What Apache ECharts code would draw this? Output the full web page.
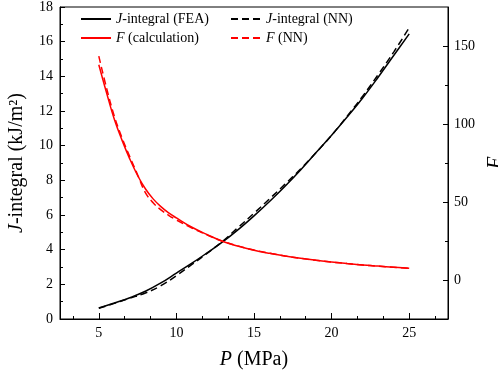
<!DOCTYPE html>
<html>
<head>
<meta charset="utf-8">
<script src="https://cdn.jsdelivr.net/npm/echarts@6/dist/echarts.min.js"></script>
<style>
html, body { margin: 0; padding: 0; background: #fff; }
#main { width: 498px; height: 372px; }
</style>
</head>
<body>
<div id="main"></div>
<script>
// pressure values (MPa)
var pJ = [5, 6, 7, 8, 9, 10, 11, 12, 13, 14, 15, 16, 17, 18, 19, 20, 21, 22, 23, 24, 25];
var jFEA = [0.63, 0.92, 1.23, 1.6, 2.08, 2.65, 3.22, 3.83, 4.46, 5.17, 5.95, 6.78, 7.66, 8.6, 9.6, 10.6, 11.65, 12.75, 13.95, 15.2, 16.45];
var jNN = [0.62, 0.9, 1.2, 1.5, 1.92, 2.5, 3.15, 3.8, 4.5, 5.3, 6.1, 6.93, 7.78, 8.65, 9.6, 10.6, 11.7, 12.85, 14.1, 15.4, 16.8];

var pF = [5, 5.5, 6, 6.5, 7, 7.5, 8, 8.5, 9, 9.5, 10, 11, 12, 13, 14, 15, 16, 17, 18, 19, 20, 21, 22, 23, 24, 25];
var fCalc = [138, 120, 103, 89.5, 77.5, 67, 58.5, 52, 47, 43, 39.8, 33.8, 29, 24.7, 21.6, 19.1, 17.1, 15.4, 13.9, 12.6, 11.5, 10.5, 9.6, 8.9, 8.2, 7.5];
var fNN = [143.5, 123, 105, 91, 79, 67.5, 56, 49.5, 45, 41.5, 38.5, 33.3, 28.8, 24.8, 21.7, 19.2, 17.2, 15.4, 13.9, 12.6, 11.5, 10.5, 9.6, 8.9, 8.2, 7.5];

var xMajor = [5, 10, 15, 20, 25];
var xMinor = [3.333, 6.667, 8.333, 11.667, 13.333, 16.667, 18.333, 21.667, 23.333, 26.667];
var fMajor = [0, 50, 100, 150];
var fMinor = [25, 75, 125];

function pairs(xs, ys) {
	var out = [];
	for (var i = 0; i < xs.length; i++) {
		out.push([xs[i], ys[i]]);
	}
	return out;
}

var font = "'Liberation Serif', 'Times New Roman', serif";
var black = '#000';
var red = '#ff0000';

function legendBox(left, names, fmt) {
	return {
		orient : 'vertical',
		left : left, top : 12,
		padding : 0,
		itemGap : 5,
		itemWidth : 30, itemHeight : 14,
		itemStyle : { opacity : 0 },
		data : names,
		formatter : fmt,
		textStyle : {
			fontFamily : font, fontSize : 14, color : black,
			rich : { i : { fontStyle : 'italic', fontFamily : font, fontSize : 14 } }
		}
	};
}

var myChart = echarts.init(document.getElementById('main'));
var option = {
	backgroundColor : '#fff',
	animation : false,
	textStyle : { fontFamily : font, color : black },
	grid : {
		left : 60, right : 50, top : 7, bottom : 53,
		outerBoundsMode : 'none',
		containLabel : false,
		show : true, borderColor : black, borderWidth : 1
	},
	legend : [
		legendBox(80, [ 'jfea', 'fcalc' ], function(name) {
			return name === 'jfea' ? '{i|J}-integral (FEA)' : '{i|F} (calculation)';
		}),
		legendBox(230, [ 'jnn', 'fnn' ], function(name) {
			return name === 'jnn' ? '{i|J}-integral (NN)' : '{i|F} (NN)';
		})
	],
	xAxis : [ {
		type : 'value',
		min : 2.5, max : 27.5,
		name : '{i|P} (MPa)',
		nameLocation : 'middle',
		nameGap : 31,
		nameTextStyle : {
			fontFamily : font, fontSize : 20, color : black,
			rich : { i : { fontStyle : 'italic', fontFamily : font, fontSize : 20 } }
		},
		axisLine : { onZero : false, lineStyle : { color : black, width : 1 } },
		axisTick : { inside : true, length : 6, customValues : xMajor, lineStyle : { color : black } },
		axisLabel : { customValues : xMajor, margin : 7, fontFamily : font, fontSize : 14, color : black },
		splitLine : { show : false }
	}, {
		type : 'value',
		min : 2.5, max : 27.5,
		position : 'bottom',
		axisLine : { show : false, onZero : false },
		axisTick : { inside : true, length : 3, customValues : xMinor, lineStyle : { color : black } },
		axisLabel : { show : false },
		splitLine : { show : false }
	} ],
	yAxis : [ {
		type : 'value',
		min : 0, max : 18, interval : 2,
		position : 'left',
		name : '{i|J}-integral (kJ/m²)',
		nameLocation : 'middle',
		nameGap : 33,
		nameRotate : 90,
		nameTextStyle : {
			fontFamily : font, fontSize : 20, color : black,
			rich : { i : { fontStyle : 'italic', fontFamily : font, fontSize : 20 } }
		},
		axisLine : { show : true, onZero : false, lineStyle : { color : black, width : 1 } },
		axisTick : { show : true, inside : true, length : 5, lineStyle : { color : black } },
		minorTick : { show : true, splitNumber : 2, length : 3, lineStyle : { color : black } },
		axisLabel : { margin : 7, fontFamily : font, fontSize : 14, color : black },
		splitLine : { show : false }
	}, {
		type : 'value',
		min : -25, max : 175,
		position : 'right',
		name : '{i|F}',
		nameLocation : 'middle',
		nameGap : 38,
		nameRotate : 90,
		nameTextStyle : {
			fontFamily : font, fontSize : 20, color : black,
			rich : { i : { fontStyle : 'italic', fontFamily : font, fontSize : 20 } }
		},
		axisLine : { show : true, onZero : false, lineStyle : { color : black, width : 1 } },
		axisTick : { show : true, inside : true, length : 5, customValues : fMajor, lineStyle : { color : black } },
		axisLabel : { customValues : fMajor, margin : 6, fontFamily : font, fontSize : 14, color : black },
		splitLine : { show : false }
	}, {
		type : 'value',
		min : -25, max : 175,
		position : 'right',
		axisLine : { show : false, onZero : false },
		axisTick : { show : true, inside : true, length : 3, customValues : fMinor, lineStyle : { color : black } },
		axisLabel : { show : false },
		splitLine : { show : false }
	} ],
	series : [ {
		name : 'jfea', type : 'line', yAxisIndex : 0,
		data : pairs(pJ, jFEA), smooth : 0.4, symbol : 'none',
		lineStyle : { color : black, width : 1.5 }, itemStyle : { color : black }
	}, {
		name : 'fcalc', type : 'line', yAxisIndex : 1,
		data : pairs(pF, fCalc), smooth : 0.4, symbol : 'none',
		lineStyle : { color : red, width : 1.5 }, itemStyle : { color : red }
	}, {
		name : 'jnn', type : 'line', yAxisIndex : 0,
		data : pairs(pJ, jNN), smooth : 0.4, symbol : 'none',
		lineStyle : { color : black, width : 1.5, type : [ 7, 4 ] }, itemStyle : { color : black }
	}, {
		name : 'fnn', type : 'line', yAxisIndex : 1,
		data : pairs(pF, fNN), smooth : 0.4, symbol : 'none',
		lineStyle : { color : red, width : 1.5, type : [ 7, 4 ] }, itemStyle : { color : red }
	} ]
};
myChart.setOption(option);
</script>
</body>
</html>
